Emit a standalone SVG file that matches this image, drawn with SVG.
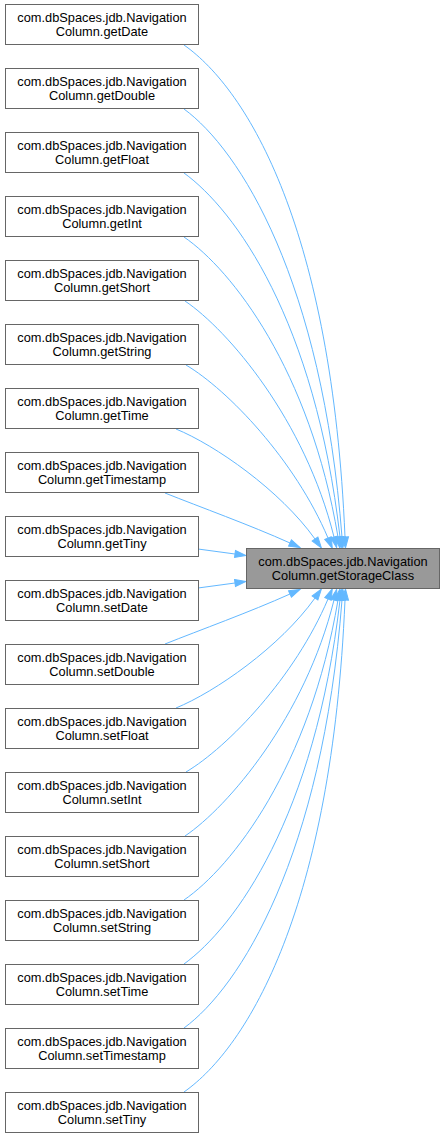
<svg xmlns="http://www.w3.org/2000/svg" width="445" height="1139" viewBox="0 0 445 1139">
<style>
.n rect{fill:#ffffff;stroke:#666666;stroke-width:1}
.c rect{fill:#999999;stroke:#666666;stroke-width:1}
text{font-family:"Liberation Sans",Arial,sans-serif;font-size:12.8px;fill:#000000;text-anchor:middle}
.e path{fill:none;stroke:#63b8ff;stroke-width:1;marker-end:url(#ah)}
</style>
<defs>
<marker id="ah" markerWidth="12" markerHeight="9" refX="0" refY="4.5" orient="auto" markerUnits="userSpaceOnUse" overflow="visible">
<path d="M0,1 L11,4.5 L0,8 Z" fill="#63b8ff" stroke="#63b8ff" stroke-width="1"/>
</marker>
</defs>
<rect x="0" y="0" width="445" height="1139" fill="#ffffff"/>
<g id="edges" class="e">
<path d="M184,45 C248,90 332,230 345,537"/>
<path d="M184,109 C240,150 322,280 342,537"/>
<path d="M184,173 C235,210 315,320 340,537"/>
<path d="M184,237 C232,270 310,370 338,537"/>
<path d="M185,301 C228,330 305,420 334,537"/>
<path d="M186,365 C228,390 295,460 328,538"/>
<path d="M176,429 C215,445 280,490 315,539"/>
<path d="M165,493 C200,507 250,525 290,543"/>
<path d="M198,549 L235,554"/>
<path d="M198,588 L235,583"/>
<path d="M165,644 C200,630 250,612 290,594"/>
<path d="M176,708 C215,692 280,647 315,598"/>
<path d="M186,772 C228,747 295,677 328,599"/>
<path d="M185,836 C228,807 305,717 334,600"/>
<path d="M184,900 C232,867 310,767 338,600"/>
<path d="M184,964 C235,927 315,817 340,600"/>
<path d="M184,1028 C240,987 322,857 342,600"/>
<path d="M184,1092 C248,1047 332,907 345,600"/>
</g>
<g id="target" class="c"><rect x="246.5" y="548.5" width="193" height="40"/><text x="343" y="566">com.dbSpaces.jdb.Navigation</text><text x="343" y="580">Column.getStorageClass</text></g>
<g id="n0" class="n"><rect x="5.5" y="4.5" width="193" height="40"/><text x="102" y="22">com.dbSpaces.jdb.Navigation</text><text x="102" y="36">Column.getDate</text></g>
<g id="n1" class="n"><rect x="5.5" y="68.5" width="193" height="40"/><text x="102" y="86">com.dbSpaces.jdb.Navigation</text><text x="102" y="100">Column.getDouble</text></g>
<g id="n2" class="n"><rect x="5.5" y="132.5" width="193" height="40"/><text x="102" y="150">com.dbSpaces.jdb.Navigation</text><text x="102" y="164">Column.getFloat</text></g>
<g id="n3" class="n"><rect x="5.5" y="196.5" width="193" height="40"/><text x="102" y="214">com.dbSpaces.jdb.Navigation</text><text x="102" y="228">Column.getInt</text></g>
<g id="n4" class="n"><rect x="5.5" y="260.5" width="193" height="40"/><text x="102" y="278">com.dbSpaces.jdb.Navigation</text><text x="102" y="292">Column.getShort</text></g>
<g id="n5" class="n"><rect x="5.5" y="324.5" width="193" height="40"/><text x="102" y="342">com.dbSpaces.jdb.Navigation</text><text x="102" y="356">Column.getString</text></g>
<g id="n6" class="n"><rect x="5.5" y="388.5" width="193" height="40"/><text x="102" y="406">com.dbSpaces.jdb.Navigation</text><text x="102" y="420">Column.getTime</text></g>
<g id="n7" class="n"><rect x="5.5" y="452.5" width="193" height="40"/><text x="102" y="470">com.dbSpaces.jdb.Navigation</text><text x="102" y="484">Column.getTimestamp</text></g>
<g id="n8" class="n"><rect x="5.5" y="516.5" width="193" height="40"/><text x="102" y="534">com.dbSpaces.jdb.Navigation</text><text x="102" y="548">Column.getTiny</text></g>
<g id="n9" class="n"><rect x="5.5" y="580.5" width="193" height="40"/><text x="102" y="598">com.dbSpaces.jdb.Navigation</text><text x="102" y="612">Column.setDate</text></g>
<g id="n10" class="n"><rect x="5.5" y="644.5" width="193" height="40"/><text x="102" y="662">com.dbSpaces.jdb.Navigation</text><text x="102" y="676">Column.setDouble</text></g>
<g id="n11" class="n"><rect x="5.5" y="708.5" width="193" height="40"/><text x="102" y="726">com.dbSpaces.jdb.Navigation</text><text x="102" y="740">Column.setFloat</text></g>
<g id="n12" class="n"><rect x="5.5" y="772.5" width="193" height="40"/><text x="102" y="790">com.dbSpaces.jdb.Navigation</text><text x="102" y="804">Column.setInt</text></g>
<g id="n13" class="n"><rect x="5.5" y="836.5" width="193" height="40"/><text x="102" y="854">com.dbSpaces.jdb.Navigation</text><text x="102" y="868">Column.setShort</text></g>
<g id="n14" class="n"><rect x="5.5" y="900.5" width="193" height="40"/><text x="102" y="918">com.dbSpaces.jdb.Navigation</text><text x="102" y="932">Column.setString</text></g>
<g id="n15" class="n"><rect x="5.5" y="964.5" width="193" height="40"/><text x="102" y="982">com.dbSpaces.jdb.Navigation</text><text x="102" y="996">Column.setTime</text></g>
<g id="n16" class="n"><rect x="5.5" y="1028.5" width="193" height="40"/><text x="102" y="1046">com.dbSpaces.jdb.Navigation</text><text x="102" y="1060">Column.setTimestamp</text></g>
<g id="n17" class="n"><rect x="5.5" y="1092.5" width="193" height="40"/><text x="102" y="1110">com.dbSpaces.jdb.Navigation</text><text x="102" y="1124">Column.setTiny</text></g>
</svg>
